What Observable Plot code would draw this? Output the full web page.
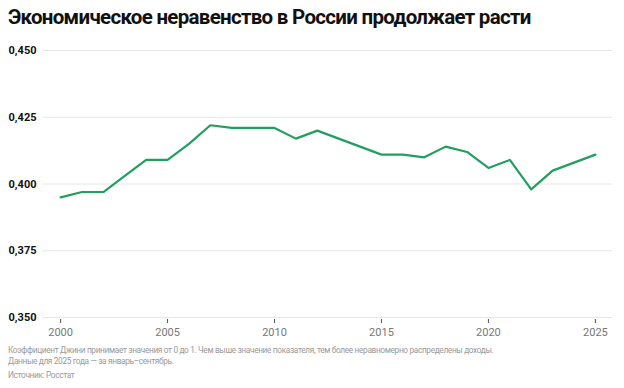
<!DOCTYPE html>
<html><head><meta charset="utf-8">
<script src="https://cdn.jsdelivr.net/npm/d3@7"></script>
<script src="https://cdn.jsdelivr.net/npm/@observablehq/plot@0.6"></script>
<style>
body{margin:0;background:#fff;font-family:Roboto,sans-serif;width:624px;height:388px;overflow:hidden}
#title{position:absolute;left:8px;top:5px;font-size:20.5px;font-weight:700;color:#111;letter-spacing:-0.7px;white-space:nowrap}
#chart{position:absolute;left:0;top:38px}
#cap{position:absolute;left:8px;top:345px;font-size:8.3px;color:#9a9a9a;line-height:10.5px;letter-spacing:-0.35px;white-space:nowrap}
#src{margin-top:4px}
</style></head><body>
<div id="title">Экономическое неравенство в России продолжает расти</div>
<div id="chart"></div>
<div id="cap">Коэффициент Джини принимает значения от 0 до 1. Чем выше значение показателя, тем более неравномерно распределены доходы.<br>Данные для 2025 года — за январь–сентябрь.<div id="src">Источник: Росстат</div></div>
<script>
const years = [2000,2001,2002,2003,2004,2005,2006,2007,2008,2009,2010,2011,2012,2013,2014,2015,2016,2017,2018,2019,2020,2021,2022,2023,2024,2025];
const gini = [0.395,0.397,0.397,0.403,0.409,0.409,0.415,0.422,0.421,0.421,0.421,0.417,0.420,0.417,0.414,0.411,0.411,0.410,0.414,0.412,0.406,0.409,0.398,0.405,0.408,0.411];
const yTicks = [0.350,0.375,0.400,0.425,0.450];
const xTicks = [2000,2005,2010,2015,2020,2025];
const data = years.map((y,i)=>({year:y,value:gini[i]}));
const fmt = v => d3.format(".3f")(v).replace(".", ",");
const chart = Plot.plot({
  width:624, height:302,
  marginTop:12, marginBottom:23, marginLeft:43, marginRight:12,
  style:{fontFamily:"Roboto, sans-serif", background:"#fff"},
  x:{domain:[1999.2,2025.8], label:null},
  y:{domain:[0.35,0.45], label:null},
  marks:[
    Plot.ruleY(yTicks,{stroke:"#e6e6e6", strokeWidth:1}),
    Plot.axisY({ticks:yTicks, tickSize:0, tickPadding:7, tickFormat:fmt, fontSize:11, fontWeight:700, fill:"#111", label:null}),
    Plot.axisX({ticks:xTicks, tickSize:4, tickPadding:5, tickFormat:d=>String(d), stroke:"#555", fill:"#777", fontSize:11, label:null, dy:2}),
    Plot.lineY(data,{x:"year", y:"value", stroke:"#229e5f", strokeWidth:2.2})
  ]
});
document.getElementById("chart").appendChild(chart);
</script>
</body></html>
